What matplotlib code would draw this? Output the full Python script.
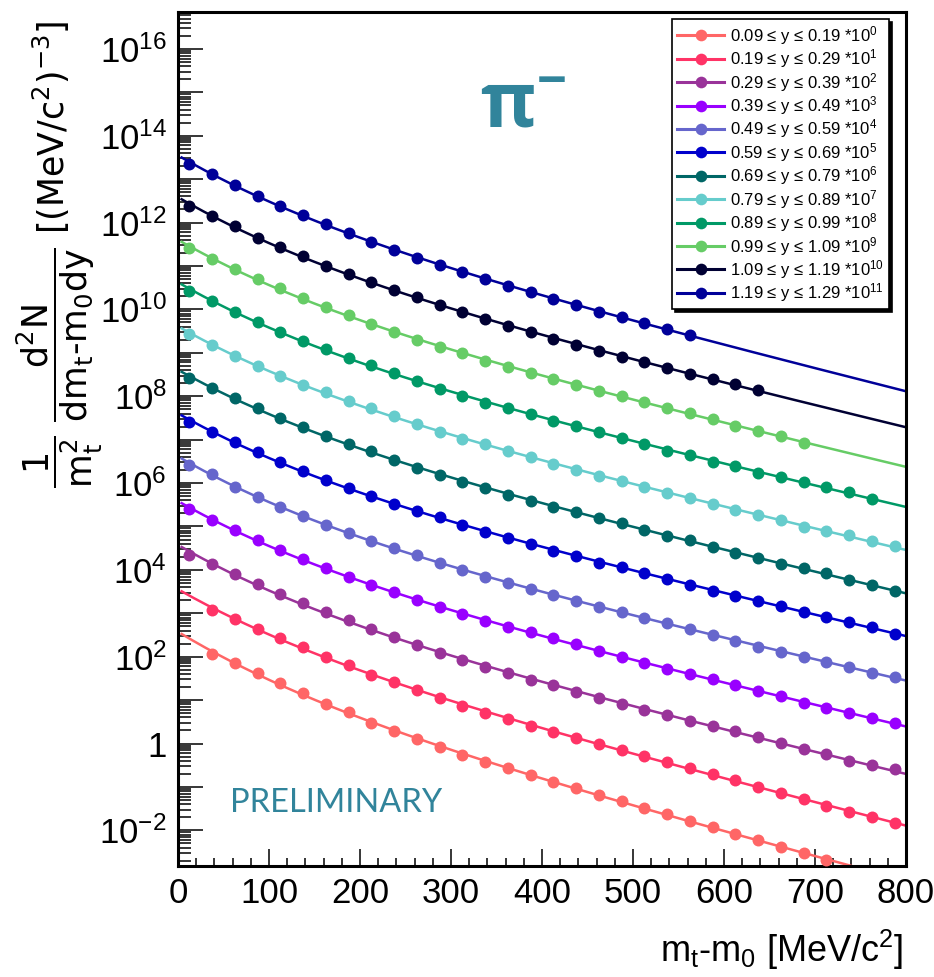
import numpy as np
import matplotlib
matplotlib.use('Agg')
import matplotlib.pyplot as plt
from matplotlib import font_manager
from matplotlib.lines import Line2D
from matplotlib.ticker import FixedLocator, FuncFormatter, LogLocator, MultipleLocator

# font simile a Helvetica stretta del canvas ROOT
nomi = {f.name for f in font_manager.fontManager.ttflist}
stretto = 'Liberation Sans Narrow' if 'Liberation Sans Narrow' in nomi else 'Liberation Sans'
plt.rcParams['font.family'] = [stretto, 'DejaVu Sans']
plt.rcParams['mathtext.default'] = 'regular'

# centri dei bin in mt-m0 [MeV/c^2]
mt_bin = [12.5, 37.5, 62.5, 87.5, 112.5, 137.5, 162.5, 187.5, 212.5, 237.5,
          262.5, 287.5, 312.5, 337.5, 362.5, 387.5, 412.5, 437.5, 462.5, 487.5,
          512.5, 537.5, 562.5, 587.5, 612.5, 637.5, 662.5, 687.5, 712.5, 737.5,
          762.5, 787.5]

etichette = ['0.09 ≤ y ≤ 0.19 *10$^{0}$', '0.19 ≤ y ≤ 0.29 *10$^{1}$',
             '0.29 ≤ y ≤ 0.39 *10$^{2}$', '0.39 ≤ y ≤ 0.49 *10$^{3}$',
             '0.49 ≤ y ≤ 0.59 *10$^{4}$', '0.59 ≤ y ≤ 0.69 *10$^{5}$',
             '0.69 ≤ y ≤ 0.79 *10$^{6}$', '0.79 ≤ y ≤ 0.89 *10$^{7}$',
             '0.89 ≤ y ≤ 0.99 *10$^{8}$', '0.99 ≤ y ≤ 1.09 *10$^{9}$',
             '1.09 ≤ y ≤ 1.19 *10$^{10}$', '1.19 ≤ y ≤ 1.29 *10$^{11}$']
colori = ['#ff6666', '#ff3366', '#993399', '#9900ff', '#6666cc', '#0000cc',
          '#006666', '#66cccc', '#009966', '#66cc66', '#000033', '#000099']

# primo bin occupato da ciascuna serie
primo_bin = [1, 1, 0, 0, 0, 0, 0, 0, 0, 0, 0, 0]

# log10 dello spettro (gia' scalato)
log_y09 = [2.06, 1.85, 1.63, 1.39, 1.16, 0.91, 0.73, 0.48, 0.29, 0.10, -0.09, -0.27,
           -0.43, -0.57, -0.73, -0.88, -1.03, -1.18, -1.33, -1.48, -1.63, -1.78,
           -1.93, -2.08, -2.23, -2.38, -2.53, -2.68]
log_y19 = [3.08, 2.87, 2.65, 2.42, 2.23, 2.00, 1.81, 1.58, 1.42, 1.23, 1.04, 0.86,
           0.70, 0.56, 0.40, 0.27, 0.13, 0.00, -0.14, -0.28, -0.42, -0.57, -0.69,
           -0.84, -0.99, -1.14, -1.28, -1.43, -1.58, -1.70, -1.83]
log_y29 = [4.35, 4.13, 3.90, 3.67, 3.45, 3.24, 3.02, 2.85, 2.65, 2.46, 2.27, 2.09,
           1.92, 1.77, 1.62, 1.46, 1.35, 1.19, 1.04, 0.90, 0.77, 0.66, 0.53, 0.40,
           0.29, 0.16, 0.01, -0.13, -0.25, -0.40, -0.50, -0.59]
log_y39 = [5.41, 5.16, 4.91, 4.68, 4.46, 4.24, 4.04, 3.84, 3.66, 3.48, 3.30, 3.14,
           2.98, 2.83, 2.68, 2.56, 2.43, 2.29, 2.14, 2.00, 1.86, 1.71, 1.60, 1.48,
           1.35, 1.21, 1.09, 0.94, 0.83, 0.71, 0.58, 0.47]
log_y49 = [6.42, 6.21, 5.92, 5.69, 5.46, 5.24, 5.03, 4.86, 4.67, 4.50, 4.34, 4.17,
           4.00, 3.84, 3.69, 3.56, 3.42, 3.29, 3.15, 3.04, 2.90, 2.77, 2.63, 2.50,
           2.36, 2.23, 2.12, 2.00, 1.89, 1.77, 1.63, 1.54]
log_y59 = [7.41, 7.18, 6.95, 6.71, 6.49, 6.28, 6.07, 5.88, 5.70, 5.51, 5.36, 5.21,
           5.03, 4.88, 4.73, 4.60, 4.44, 4.33, 4.17, 4.07, 3.92, 3.78, 3.65, 3.52,
           3.41, 3.29, 3.17, 3.04, 2.91, 2.81, 2.68, 2.52]
log_y69 = [8.43, 8.18, 7.95, 7.72, 7.49, 7.29, 7.09, 6.91, 6.74, 6.53, 6.35, 6.19,
           6.03, 5.88, 5.73, 5.59, 5.46, 5.34, 5.20, 5.07, 4.92, 4.79, 4.69, 4.52,
           4.40, 4.27, 4.14, 4.05, 3.92, 3.77, 3.65, 3.51]
log_y79 = [9.43, 9.19, 8.93, 8.70, 8.47, 8.26, 8.09, 7.89, 7.72, 7.55, 7.37, 7.18,
           7.02, 6.90, 6.74, 6.59, 6.44, 6.30, 6.16, 6.05, 5.90, 5.77, 5.65, 5.51,
           5.38, 5.27, 5.15, 4.98, 4.90, 4.80, 4.67, 4.55]
log_y89 = [10.43, 10.20, 9.94, 9.71, 9.49, 9.28, 9.08, 8.88, 8.71, 8.53, 8.34, 8.16,
           8.01, 7.85, 7.72, 7.59, 7.44, 7.32, 7.17, 7.03, 6.90, 6.75, 6.65, 6.49,
           6.39, 6.24, 6.15, 6.02, 5.90, 5.79, 5.63]
log_y99 = [11.41, 11.16, 10.93, 10.70, 10.49, 10.27, 10.06, 9.86, 9.67, 9.47, 9.30,
           9.14, 8.99, 8.82, 8.67, 8.53, 8.39, 8.25, 8.13, 8.01, 7.87, 7.72, 7.61,
           7.47, 7.32, 7.21, 7.09, 6.93]
log_y109 = [12.39, 12.15, 11.91, 11.65, 11.43, 11.22, 11.01, 10.81, 10.64, 10.45,
            10.28, 10.09, 9.93, 9.77, 9.62, 9.48, 9.32, 9.18, 9.04, 8.91, 8.79, 8.65,
            8.51, 8.40, 8.28, 8.15]
log_y119 = [13.35, 13.12, 12.87, 12.62, 12.39, 12.17, 11.96, 11.75, 11.56, 11.37,
            11.19, 11.03, 10.86, 10.70, 10.54, 10.39, 10.24, 10.10, 9.95, 9.82, 9.69,
            9.54, 9.42]

serie = [log_y09, log_y19, log_y29, log_y39, log_y49, log_y59,
         log_y69, log_y79, log_y89, log_y99, log_y109, log_y119]


# fit: log10 f = a + b*x + c*exp(-x/tau)
def fit_spettro(x, logy, tau=180.0):
    A = np.column_stack([np.ones_like(x), x, np.exp(-x / tau)])
    coef, *_ = np.linalg.lstsq(A, logy, rcond=None)
    return coef


def modello(coef, x, tau=180.0):
    return coef[0] + coef[1] * x + coef[2] * np.exp(-x / tau)


fig = plt.figure(figsize=(9.34, 9.77), dpi=100)
ax = fig.add_axes([178 / 934, 1 - 866 / 977, 728 / 934, 854 / 977])

x_fit = np.linspace(4, 800, 400)
for logy, i0, c in zip(serie, primo_bin, colori):
    x = np.array(mt_bin[i0:i0 + len(logy)])
    ly = np.array(logy)
    coef = fit_spettro(x, ly)
    ax.plot(x_fit, 10 ** modello(coef, x_fit), color=c, lw=1.8, zorder=2)
    ax.plot(x, 10 ** ly, 'o', color=c, ms=8.6, mew=0, zorder=3)

ax.set_yscale('log')
ax.set_xlim(0, 800)
ax.set_ylim(10 ** -2.82, 10 ** 16.85)


def etichetta_y(v, pos):
    e = int(round(np.log10(v)))
    if e % 2:
        return ''
    if e == 0:
        return '1'
    return r'$10^{%d}$' % e


ax.yaxis.set_major_locator(FixedLocator([10.0 ** k for k in range(-2, 17)]))
ax.yaxis.set_major_formatter(FuncFormatter(etichetta_y))
ax.yaxis.set_minor_locator(LogLocator(base=10, subs=np.arange(2, 10), numticks=200))
ax.xaxis.set_major_locator(MultipleLocator(100))
ax.xaxis.set_minor_locator(MultipleLocator(20))

ax.tick_params(which='both', direction='in', top=False, right=False,
               labelsize=25, width=1.1, pad=8)
ax.tick_params(axis='y', which='major', length=18)
ax.tick_params(axis='y', which='minor', length=9)
ax.tick_params(axis='x', which='major', length=12)
ax.tick_params(axis='x', which='minor', length=6)
for s in ax.spines.values():
    s.set_linewidth(2.2)

# legenda
maniglie = [Line2D([], [], color=c, marker='o', ms=8.4, mew=0, lw=2.2) for c in colori]
leg = ax.legend(maniglie, etichette, loc='upper right',
                bbox_to_anchor=((889 - 178) / 728, 1 - (19 - 12) / 854),
                fontsize=12, handlelength=2.8, handletextpad=0.35,
                labelspacing=0.03, borderpad=0.3, borderaxespad=0,
                fancybox=False, framealpha=1, edgecolor='black',
                shadow={'color': 'black', 'alpha': 1})
leg.get_frame().set_linewidth(1.2)

# scritte
blu_pi = '#31849b'
fig.text(480 / 934, 1 - 128 / 977, 'π$^{-}$', fontsize=54, fontweight='bold',
         family=['Open Sans', 'DejaVu Sans'], color=blu_pi, ha='left', va='baseline')
fig.text(230 / 934, 1 - 812 / 977, 'PRELIMINARY', fontsize=23.5,
         family=['Lato', 'DejaVu Sans'], color=blu_pi, ha='left', va='baseline')

fig.text(60 / 934, 1 - 254 / 977,
         r'$\dfrac{1}{m_{t}^{2}}\ \dfrac{d^{2}N}{dm_{t}\text{-}m_{0}dy}$ [(MeV/c$^{2}$)$^{-3}$]',
         rotation=90, ha='center', va='center', fontsize=25, family=['DejaVu Sans'])
fig.text(903 / 934, 1 - 962 / 977, r'm$_{t}$-m$_{0}$ [MeV/c$^{2}$]',
         ha='right', va='baseline', fontsize=26)

fig.savefig('out.png', dpi=100)
